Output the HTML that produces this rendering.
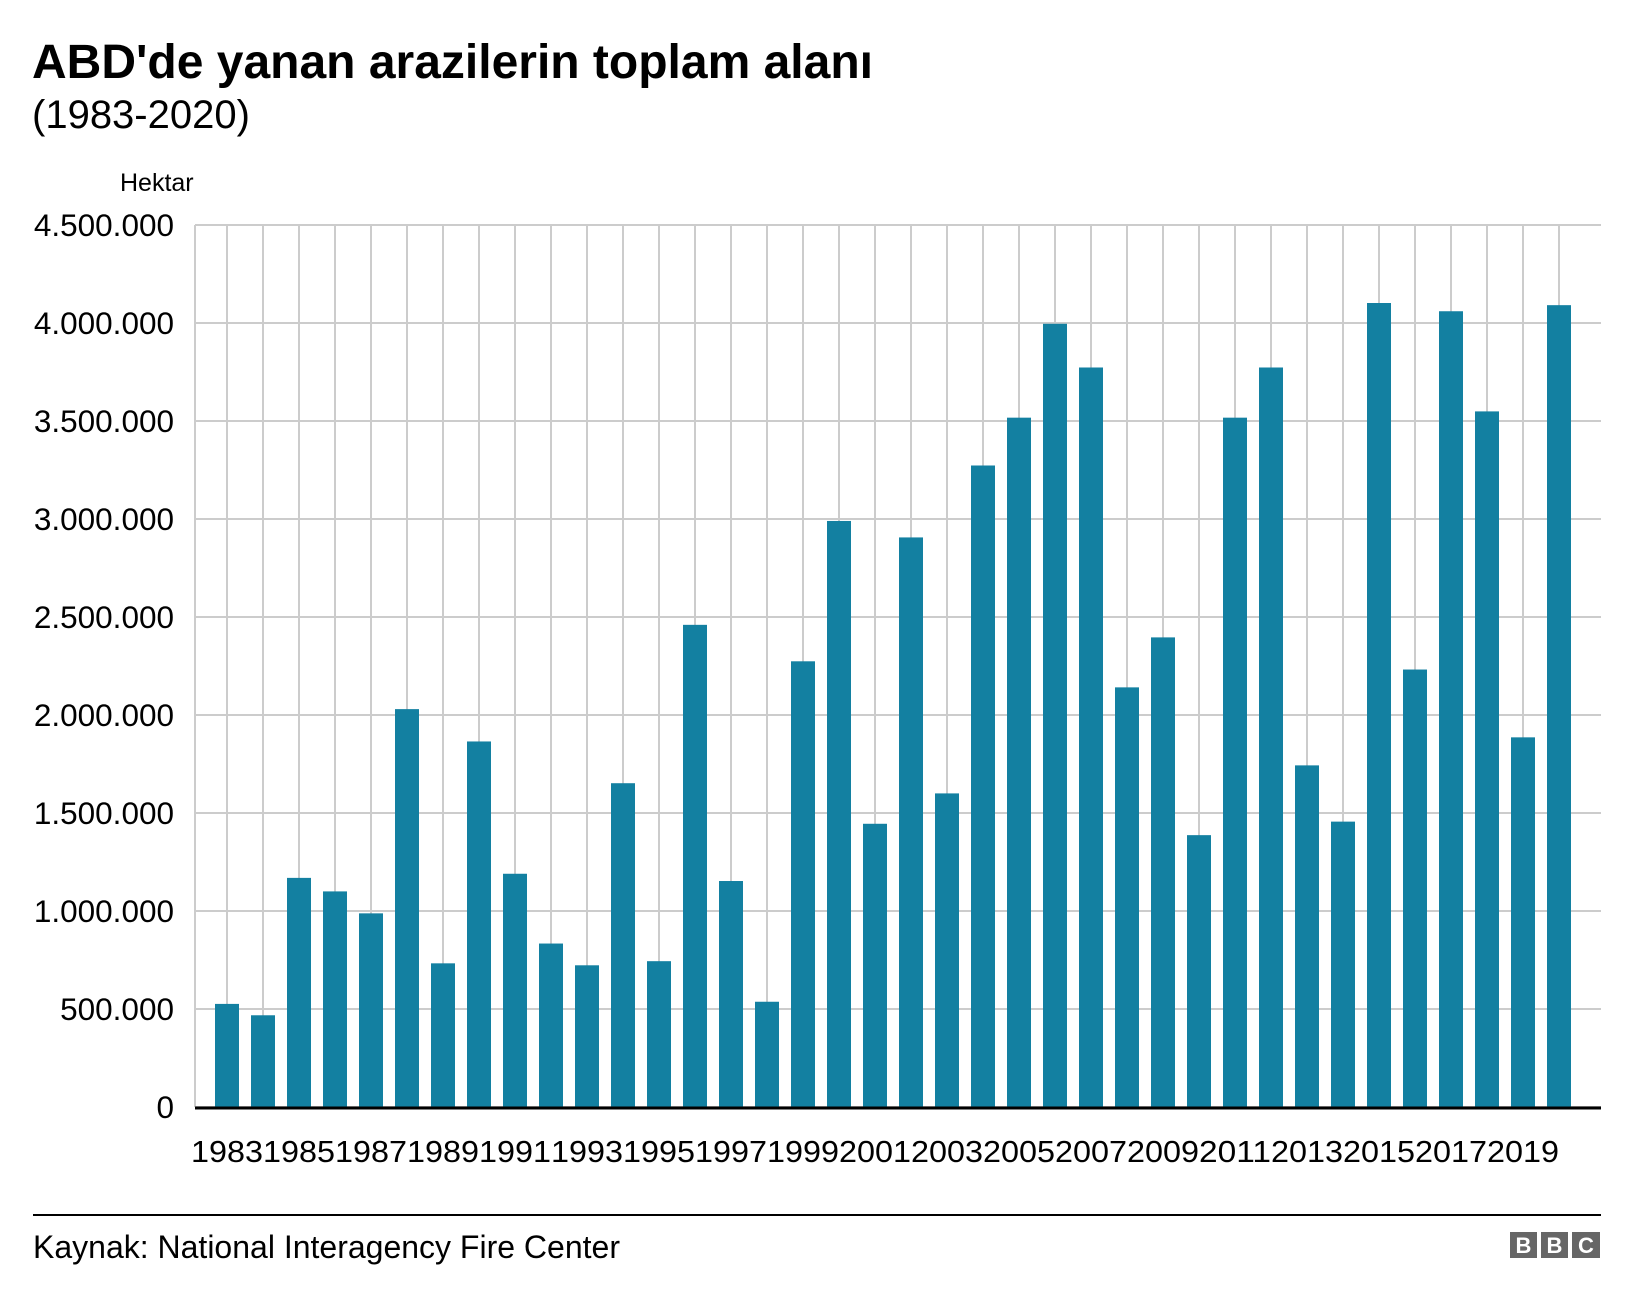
<!DOCTYPE html>
<html><head><meta charset="utf-8"><style>
html,body{margin:0;padding:0;background:#fff;}
body{width:1632px;height:1300px;overflow:hidden;font-family:"Liberation Sans",Arial,sans-serif;}
</style></head><body>
<svg id="chart" width="1632" height="1300" xmlns="http://www.w3.org/2000/svg" font-family="Liberation Sans, Arial, sans-serif">
<text x="32" y="78" font-size="48" font-weight="bold" fill="#000">ABD'de yanan arazilerin toplam alanı</text>
<text x="32" y="128" font-size="40" fill="#000">(1983-2020)</text>
<text x="120" y="191" font-size="25" fill="#000">Hektar</text>
<g id="grid"></g>
<g id="bars"></g>
<g id="yticks"></g>
<g id="xticks"></g>
<line x1="195" y1="1108" x2="1601" y2="1108" stroke="#000" stroke-width="3"/>
<line x1="33" y1="1215" x2="1601" y2="1215" stroke="#000" stroke-width="2"/>
<text x="33" y="1258" font-size="32" fill="#000">Kaynak: National Interagency Fire Center</text>
<g font-size="22" font-weight="bold" fill="#fff" text-anchor="middle">
<rect x="1510" y="1232" width="27" height="26" fill="#666"/><text x="1523.5" y="1253">B</text>
<rect x="1541" y="1232" width="27" height="26" fill="#666"/><text x="1554.5" y="1253">B</text>
<rect x="1572" y="1232" width="28" height="26" fill="#666"/><text x="1586" y="1253">C</text>
</g>
</svg>
<script>
const years = [1983,1984,1985,1986,1987,1988,1989,1990,1991,1992,1993,1994,1995,1996,1997,1998,1999,2000,2001,2002,2003,2004,2005,2006,2007,2008,2009,2010,2011,2012,2013,2014,2015,2016,2017,2018,2019,2020];
const hectares = [526000,468000,1169000,1100000,988000,2030000,733000,1865000,1190000,834000,723000,1652000,744000,2460000,1153000,537000,2274000,2990000,1445000,2906000,1600000,3273000,3517000,3996000,3773000,2141000,2396000,1387000,3517000,3773000,1743000,1456000,4102000,2232000,4060000,3549000,1886000,4091000];
const yTicks = [0,500000,1000000,1500000,2000000,2500000,3000000,3500000,4000000,4500000];
const yTickLabels = ["0","500.000","1.000.000","1.500.000","2.000.000","2.500.000","3.000.000","3.500.000","4.000.000","4.500.000"];
const xLabelYears = [1983,1985,1987,1989,1991,1993,1995,1997,1999,2001,2003,2005,2007,2009,2011,2013,2015,2017,2019];

const NS='http://www.w3.org/2000/svg';
const plotL=195, plotR=1601, plotBase=1107, plotTop=225, yMax=4500000;
const x0=227, step=36, barW=24;
function yScale(v){return plotBase-(v/yMax)*(plotBase-plotTop);}
function xc(i){return x0+i*step;}
function mk(t,a){const e=document.createElementNS(NS,t);for(const k in a)e.setAttribute(k,a[k]);return e;}
const grid=document.getElementById('grid'),bars=document.getElementById('bars'),yt=document.getElementById('yticks'),xt=document.getElementById('xticks');
let vl=mk('line',{x1:plotL,y1:plotTop,x2:plotL,y2:plotBase,stroke:'#cccccc','stroke-width':2});


grid.appendChild(vl);
years.forEach((yr,i)=>{
  const l=mk('line',{x1:xc(i),y1:plotTop,x2:xc(i),y2:plotBase,stroke:'#cccccc','stroke-width':2});
  
  
  grid.appendChild(l);
});
yTicks.forEach((v,i)=>{
  const l=mk('line',{x1:plotL,y1:yScale(v),x2:plotR,y2:yScale(v),stroke:'#cccccc','stroke-width':2});
  
  
  grid.appendChild(l);
  const t=mk('text',{x:174,y:yScale(v)+11,'font-size':31.5,'text-anchor':'end',fill:'#000'});
  t.textContent=yTickLabels[i];
  
  
  yt.appendChild(t);
});
hectares.forEach((v,i)=>{
  const r=mk('rect',{x:xc(i)-barW/2,y:yScale(v),width:barW,height:plotBase-yScale(v),fill:'#1380A1'});
  
  
  bars.appendChild(r);
});
xLabelYears.forEach(yr=>{
  const i=years.indexOf(yr);
  const t=mk('text',{x:xc(i),y:1162,'font-size':31,'text-anchor':'middle',fill:'#000',textLength:72,lengthAdjust:'spacingAndGlyphs'});
  t.textContent=String(yr);
  
  
  xt.appendChild(t);
});
</script>
</body></html>
